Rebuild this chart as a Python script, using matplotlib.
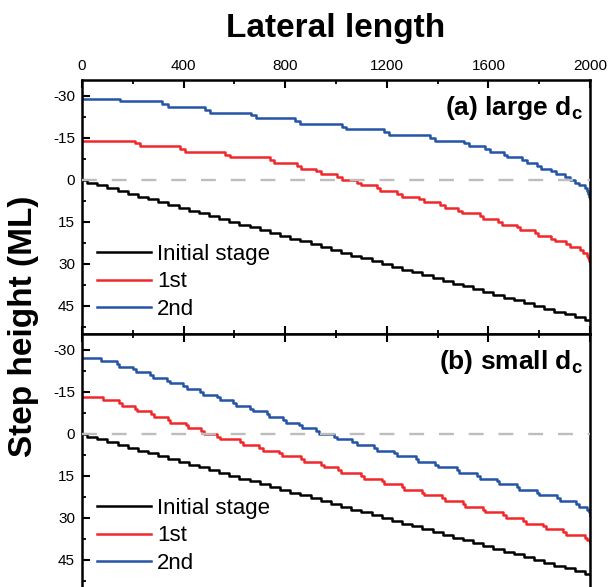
import numpy as np
import matplotlib

matplotlib.use("Agg")
import matplotlib.pyplot as plt
from matplotlib.ticker import MultipleLocator

plt.rcParams["font.family"] = ["Liberation Sans", "DejaVu Sans"]
plt.rcParams["axes.unicode_minus"] = False
plt.rcParams["mathtext.fontset"] = "custom"
plt.rcParams["mathtext.bf"] = "Liberation Sans:bold"
plt.rcParams["mathtext.rm"] = "Liberation Sans"

# x positions where each curve steps down by 1 ML
initial_start = 0
initial_steps = [20, 60, 100, 140, 180, 220, 260, 300, 340, 380,
                 420, 460, 500, 540, 580, 620, 660, 700, 740, 780,
                 820, 860, 900, 940, 980, 1020, 1060, 1100, 1140, 1180,
                 1220, 1260, 1300, 1340, 1380, 1420, 1460, 1500, 1540, 1580,
                 1620, 1660, 1700, 1740, 1780, 1820, 1860, 1900, 1940, 1980]

# (a) large dc
a_first_start = -14
a_first_steps = [208, 230, 384, 405, 561, 583, 740, 757, 848, 862, 923, 940,
                 1005, 1025, 1084, 1097, 1162, 1175, 1240, 1260, 1325, 1345,
                 1410, 1430, 1482, 1495, 1567, 1580, 1639, 1652, 1711, 1724,
                 1783, 1796, 1848, 1861, 1907, 1920, 1960, 1973, 1990, 1994,
                 1997, 2000]
a_second_start = -29
a_second_steps = [150, 315, 340, 485, 505, 665, 685, 840, 857, 1025, 1038,
                  1188, 1208, 1371, 1391, 1502, 1522, 1587, 1607, 1662, 1672,
                  1731, 1751, 1792, 1809, 1848, 1865, 1900, 1920, 1940, 1958,
                  1982, 1988, 1993, 1997, 2000]

# (b) small dc
b_first_start = -13
b_first_steps = [81, 144, 157, 209, 218, 273, 282, 339, 348, 408, 417, 469,
                 482, 531, 544, 622, 635, 698, 711, 776, 789, 861, 874, 939,
                 952, 1008, 1020, 1099, 1111, 1181, 1190, 1260, 1269, 1338,
                 1347, 1417, 1430, 1499, 1508, 1577, 1586, 1659, 1669, 1737,
                 1748, 1816, 1826, 1894, 1905, 1980, 1990, 2000]
b_second_start = -27
b_second_steps = [73, 136, 146, 201, 212, 269, 280, 335, 345, 399, 412, 466,
                  477, 531, 542, 596, 607, 662, 672, 727, 738, 790, 803, 855,
                  868, 923, 933, 992, 1005, 1064, 1081, 1151, 1162, 1230, 1240,
                  1313, 1322, 1390, 1403, 1475, 1486, 1555, 1566, 1633, 1643,
                  1711, 1722, 1790, 1800, 1871, 1882, 1946, 1957, 1990, 1995,
                  2000]

labels = ["Initial stage", "1st", "2nd"]
colors = ["#000000", "#F0282A", "#2454A6"]
x_max = 2000


def staircase(start, steps):
    x = np.array([0] + steps + [x_max], dtype=float)
    y = start + np.arange(len(steps) + 1)
    y = np.append(y, y[-1])
    return x, y


def draw_panel(ax, series, title):
    for (start, steps), lab, col in zip(series, labels, colors):
        x, y = staircase(start, steps)
        ax.step(x, y, where="post", color=col, lw=1.8, label=lab)
    ax.axhline(0, color="#BDBDBD", lw=1.7, ls=(0, (6.3, 6.3)), zorder=5)
    ax.set_xlim(0, x_max)
    ax.set_ylim(55, -35.6)
    ax.xaxis.set_major_locator(MultipleLocator(400))
    ax.xaxis.set_minor_locator(MultipleLocator(200))
    ax.yaxis.set_major_locator(MultipleLocator(15))
    ax.yaxis.set_minor_locator(MultipleLocator(7.5))
    ax.tick_params(which="both", direction="in", top=True, bottom=True,
                   left=True, right=False, labelsize=11, pad=5)
    ax.tick_params(which="major", length=6, width=1.5)
    ax.tick_params(which="minor", length=3, width=1.3)
    for sp in ax.spines.values():
        sp.set_linewidth(1.8)
    ax.text(0.986, 0.862, title, transform=ax.transAxes, ha="right",
            va="baseline", fontsize=19, fontweight="bold")
    ax.legend(loc="center left", bbox_to_anchor=(0.0295, 0.205),
              frameon=False, fontsize=16, borderpad=0, borderaxespad=0,
              handlelength=2.43, handletextpad=0.27, labelspacing=0.28)


fig = plt.figure(figsize=(6.08, 5.87), dpi=100)
ax_a = fig.add_axes([0.1349, 0.4310, 0.8355, 0.4327])
ax_b = fig.add_axes([0.1349, -0.0017, 0.8355, 0.4327])

draw_panel(ax_a, [(initial_start, initial_steps),
                  (a_first_start, a_first_steps),
                  (a_second_start, a_second_steps)],
           r"(a) large d$_\mathbf{c}$")
draw_panel(ax_b, [(initial_start, initial_steps),
                  (b_first_start, b_first_steps),
                  (b_second_start, b_second_steps)],
           r"(b) small d$_\mathbf{c}$")

ax_a.tick_params(labeltop=True, labelbottom=False)
ax_b.tick_params(which="both", labeltop=False, labelbottom=False,
                 bottom=False)
ax_b.spines["bottom"].set_visible(False)

fig.text(336 / 608, 1 - 37 / 587, "Lateral length", ha="center",
         va="baseline", fontsize=24, fontweight="bold")
fig.text(23.5 / 608, 1 - 326 / 587, "Step height (ML)", rotation=90,
         ha="center", va="center", fontsize=24, fontweight="bold")

fig.savefig("out.png", dpi=100)
plt.close(fig)
